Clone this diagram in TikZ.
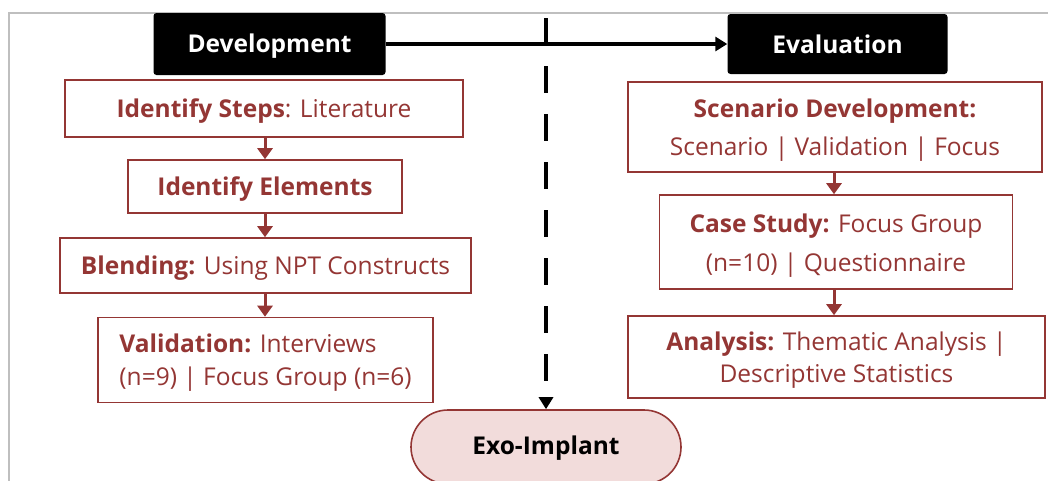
\documentclass[tikz,border=0pt]{standalone}
\usepackage{fontspec}
\setmainfont{Open Sans}
\usetikzlibrary{arrows.meta,shapes.misc}
\definecolor{dred}{HTML}{943634}
\definecolor{pinkf}{HTML}{F2DCDB}
\definecolor{frameg}{HTML}{BFBFBF}
\newcommand{\lowr}[2][-3pt]{\raisebox{#1}[\height][\depth]{#2}}
\newcommand{\tbc}[2][-3pt]{\raisebox{#1}[\height][\depth]{\begin{tabular}{@{}c@{}}#2\end{tabular}}}
\newcommand{\tbl}[2][-3pt]{\raisebox{#1}[\height][\depth]{\begin{tabular}{@{}l@{}}#2\end{tabular}}}
\tikzset{
  hdr/.style={fill=black, rounded corners=3pt, text=white, font=\fontsize{24.5}{26}\selectfont\bfseries, inner sep=0pt},
  stepbox/.style={draw=dred, line width=1.6pt, fill=white, text=dred, inner sep=0pt, font=\fontsize{24.5}{35}\selectfont},
  redarrow/.style={draw=dred, line width=3pt, -{Triangle[width=15pt,length=11pt]}},
  blkarrow/.style={draw=black, line width=3.5pt, -{Triangle[width=14pt,length=12pt]}},
  dasharrow/.style={draw=black, line width=4pt, dash pattern=on 27pt off 21pt, -{Triangle[width=14pt,length=12pt]}},
}
\begin{document}
\begin{tikzpicture}[x=1pt,y=-1pt]
\useasboundingbox (0,0) rectangle (1048,480);
\fill[white] (0,0) rectangle (1048,480);
\draw[frameg, line width=1.5pt] (9,482) -- (9,13) -- (1050,13);
% headers
\node[hdr, minimum width=232pt, minimum height=62pt] (dev) at (269.5,44) {\lowr[-2pt]{Development}};
\node[hdr, minimum width=220pt, minimum height=60pt] (eval) at (837.5,44) {Evaluation};
% left column
\node[stepbox, minimum width=398pt, minimum height=57pt] (s1) at (264,108.5) {\lowr{\textbf{Identify Steps}: Literature}};
\node[stepbox, minimum width=274pt, minimum height=53pt] (s2) at (265,186.5) {\lowr{\textbf{Identify Elements}}};
\node[stepbox, minimum width=411pt, minimum height=55pt] (s3) at (265.5,265.5) {\lowr{\textbf{Blending:} Using NPT Constructs}};
\node[stepbox, minimum width=335pt, minimum height=85pt, font=\fontsize{24.5}{33}\selectfont] (s4) at (265.5,360) {\tbl[-2pt]{\textbf{Validation:} Interviews\\(n=9) | Focus Group (n=6)}};
% right column
\node[stepbox, minimum width=414pt, minimum height=90pt, font=\fontsize{24.5}{38}\selectfont] (r1) at (835,127) {\tbc[-2pt]{\textbf{Scenario Development:}\\Scenario | Validation | Focus}};
\node[stepbox, minimum width=353pt, minimum height=94pt, font=\fontsize{24.5}{39}\selectfont] (r2) at (836,242) {\tbc[-2pt]{\textbf{Case Study:} Focus Group\\(n=10) | Questionnaire}};
\node[stepbox, minimum width=417pt, minimum height=82pt, font=\fontsize{24.5}{32}\selectfont] (r3) at (836.5,357) {\tbc{\textbf{Analysis:} Thematic Analysis |\\Descriptive Statistics}};
% exo implant
\node[draw=dred, line width=1.6pt, fill=pinkf, rounded rectangle, minimum width=270pt, minimum height=74pt, inner sep=0pt, font=\fontsize{24.5}{26}\selectfont\bfseries] (exo) at (546,447) {\lowr[-1pt]{Exo-Implant}};
% connectors
\draw[redarrow] (s1.south -| 265,0) -- (s2.north -| 265,0);
\draw[redarrow] (s2.south -| 265,0) -- (s3.north -| 265,0);
\draw[redarrow] (s3.south -| 265,0) -- (s4.north -| 265,0);
\draw[redarrow] (r1.south -| 834,0) -- (r2.north -| 834,0);
\draw[redarrow] (r2.south -| 834,0) -- (r3.north -| 834,0);
\draw[blkarrow] (dev.east) -- (eval.west);
\coordinate (dtop) at (546,18);
\draw[dasharrow] (dtop) -- (exo.north);
\end{tikzpicture}
\end{document}
